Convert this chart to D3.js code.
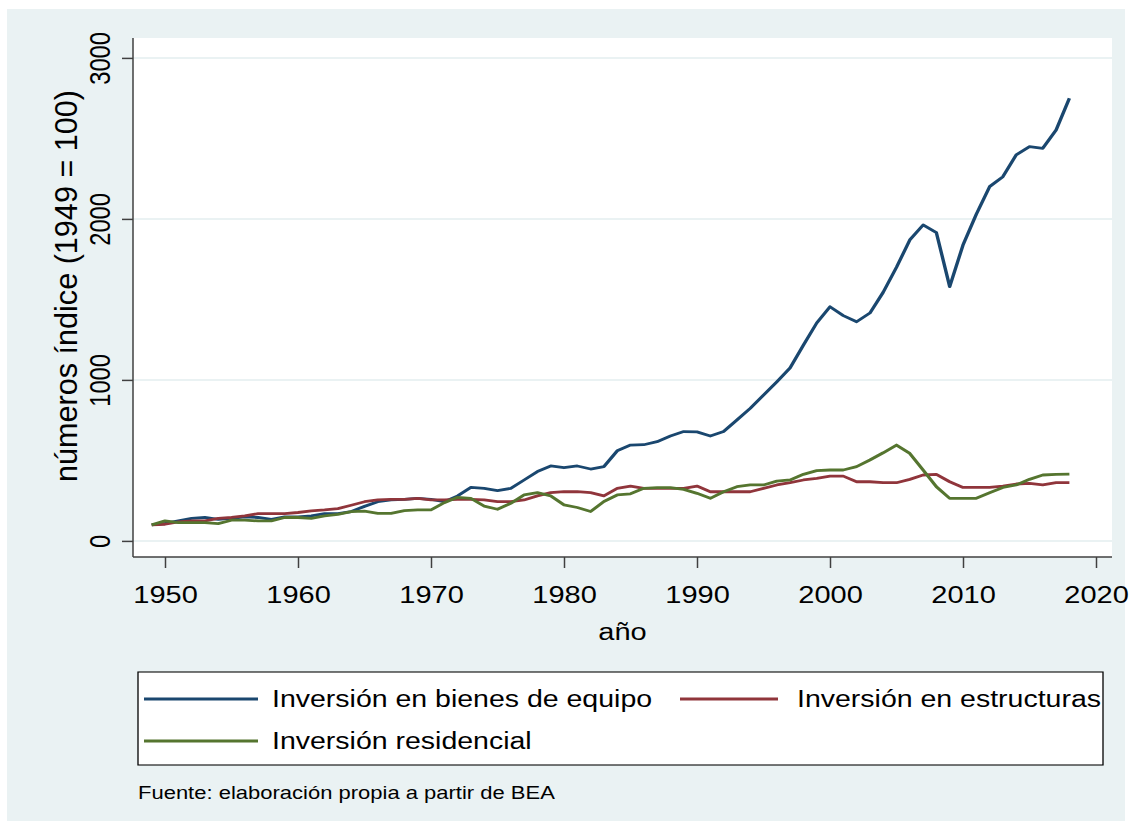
<!doctype html>
<head>
  <meta charset="utf-8">
  <script src="https://cdnjs.cloudflare.com/ajax/libs/d3/7.8.5/d3.min.js"></script>
</head>
<style>
  body { margin: 0; background: #fff; }
  svg { display: block; }
  text { font-family: "Liberation Sans", Arial, sans-serif; fill: #000; }
</style>
<body>
  <div id="chart"></div>
  <script>
    // Datos (1949 = 100), años 1949-2018
    const years = d3.range(1949, 2019);
    const equipo = [
      100, 110, 125, 141, 146, 135, 141, 150, 146, 135,
      150, 150, 156, 170, 170, 183, 215, 244, 255, 259,
      265, 259, 244, 280, 333, 327, 313, 327, 379, 431,
      466, 455, 466, 447, 462, 560, 596, 598, 617, 652,
      680, 678, 652, 680, 752, 824, 906, 989, 1075, 1217,
      1354, 1455, 1400, 1362, 1416, 1545, 1700, 1870, 1963, 1915,
      1580, 1838, 2030, 2201, 2263, 2398, 2449, 2439, 2553, 2750
    ];
    const estructuras = [
      100, 104, 119, 125, 125, 141, 146, 156, 170, 170,
      170, 177, 187, 193, 201, 222, 244, 255, 259, 259,
      265, 255, 255, 259, 259, 255, 244, 244, 255, 280,
      300, 306, 306, 300, 280, 327, 341, 327, 327, 327,
      327, 341, 306, 306, 306, 306, 327, 348, 362, 379,
      389, 403, 403, 368, 368, 362, 362, 383, 410, 414,
      368, 333, 333, 333, 341, 354, 358, 348, 362, 362
    ];
    const residencial = [
      100, 125, 114, 114, 114, 108, 129, 129, 125, 125,
      146, 146, 141, 156, 166, 183, 185, 172, 172, 189,
      193, 193, 238, 271, 265, 217, 197, 234, 286, 300,
      280, 224, 208, 183, 245, 286, 293, 327, 331, 331,
      321, 296, 265, 306, 337, 348, 348, 372, 379, 414,
      437, 441, 441, 462, 503, 548, 596, 544, 441, 337,
      265, 265, 265, 300, 333, 348, 383, 410, 414, 416
    ];
    const seriesNames = ["Inversión en bienes de equipo", "Inversión en estructuras", "Inversión residencial"];
    const seriesColors = ["#1a476f", "#90353b", "#55752f"];
    const xTicks = [1950, 1960, 1970, 1980, 1990, 2000, 2010, 2020];
    const yTicks = [0, 1000, 2000, 3000];

    // La imagen original está achatada en vertical: dibujamos en un sistema
    // más alto y lo comprimimos con el viewBox
    const W = 1131, H = 825;
    const sy = 0.82;
    const Y = (v) => v / sy;

    const svg = d3.select("#chart").append("svg")
      .attr("width", W).attr("height", H)
      .attr("viewBox", `0 0 ${W} ${H / sy}`)
      .attr("preserveAspectRatio", "none");

    // Fondo del gráfico
    svg.append("rect")
      .attr("x", 7).attr("y", Y(9))
      .attr("width", 1118).attr("height", Y(812))
      .attr("fill", "#eaf2f3");

    // Región del plot
    const plot = { left: 133, right: 1112, top: Y(38), bottom: Y(557) };
    svg.append("rect")
      .attr("x", plot.left).attr("y", plot.top)
      .attr("width", plot.right - plot.left).attr("height", plot.bottom - plot.top)
      .attr("fill", "#fff");

    const x = d3.scaleLinear().domain([1950, 2020]).range([165, 1096]);
    const y = d3.scaleLinear().domain([0, 3000]).range([Y(541), Y(58)]);

    // Rejilla
    svg.append("g")
      .selectAll("line")
      .data(yTicks)
      .join("line")
      .attr("x1", plot.left).attr("x2", plot.right)
      .attr("y1", (d) => y(d)).attr("y2", (d) => y(d))
      .attr("stroke", "#eaf2f3")
      .attr("stroke-width", 2.4);

    // Series
    const series = [equipo, estructuras, residencial];
    const line = d3.line()
      .x((d, i) => x(years[i]))
      .y((d) => y(d));
    svg.append("g")
      .selectAll("path")
      .data(series)
      .join("path")
      .attr("d", line)
      .attr("fill", "none")
      .attr("stroke", (d, i) => seriesColors[i])
      .attr("stroke-width", 3.4)
      .attr("stroke-linejoin", "round");

    // Ejes
    const axisColor = "#404040";
    const xAxis = svg.append("g")
      .attr("transform", `translate(0,${plot.bottom})`)
      .call(d3.axisBottom(x).tickValues(xTicks).tickFormat(d3.format("d"))
        .tickSize(Y(11)).tickPadding(6).tickSizeOuter(0));
    xAxis.select(".domain").remove();
    xAxis.selectAll(".tick line").attr("stroke", axisColor).attr("stroke-width", 1.5);
    xAxis.selectAll(".tick text")
      .attr("font-size", 29).attr("fill", "#000")
      .attr("y", Y(46)).attr("dy", 0);

    const yAxis = svg.append("g")
      .attr("transform", `translate(${plot.left},0)`)
      .call(d3.axisLeft(y).tickValues(yTicks).tickFormat(d3.format("d"))
        .tickSize(11).tickSizeOuter(0));
    yAxis.select(".domain").remove();
    yAxis.selectAll(".tick line").attr("stroke", axisColor).attr("stroke-width", Y(1.5));
    yAxis.selectAll(".tick text")
      .attr("font-size", 29).attr("fill", "#000")
      .attr("x", 0).attr("dy", 0)
      .attr("text-anchor", "middle")
      .attr("transform", "translate(-23,0) rotate(-90)");

    svg.append("line")
      .attr("x1", plot.left).attr("x2", plot.left)
      .attr("y1", plot.top).attr("y2", plot.bottom)
      .attr("stroke", axisColor).attr("stroke-width", 1.5);
    svg.append("line")
      .attr("x1", plot.left).attr("x2", plot.right)
      .attr("y1", plot.bottom).attr("y2", plot.bottom)
      .attr("stroke", axisColor).attr("stroke-width", Y(1.5));

    // Títulos de los ejes
    svg.append("text")
      .attr("x", (plot.left + plot.right) / 2).attr("y", Y(640))
      .attr("text-anchor", "middle").attr("font-size", 29)
      .text("año");
    svg.append("text")
      .attr("transform", `translate(77,${Y(286)}) rotate(-90)`)
      .attr("text-anchor", "middle").attr("font-size", 31)
      .attr("textLength", 478).attr("lengthAdjust", "spacingAndGlyphs")
      .text("números índice (1949 = 100)");

    // Leyenda
    const legend = svg.append("g");
    legend.append("rect")
      .attr("x", 138).attr("y", Y(672))
      .attr("width", 965).attr("height", Y(93))
      .attr("fill", "#fff").attr("stroke", "#000").attr("stroke-width", 1.3);
    const legendPos = [
      { lx: 144, len: 114, tx: 272, ty: 699 },
      { lx: 680, len: 98, tx: 797, ty: 699 },
      { lx: 144, len: 114, tx: 272, ty: 741 },
    ];
    const items = legend.selectAll("g.item")
      .data(seriesNames)
      .join("g")
      .attr("class", "item");
    items.append("line")
      .attr("x1", (d, i) => legendPos[i].lx)
      .attr("x2", (d, i) => legendPos[i].lx + legendPos[i].len)
      .attr("y1", (d, i) => Y(legendPos[i].ty))
      .attr("y2", (d, i) => Y(legendPos[i].ty))
      .attr("stroke", (d, i) => seriesColors[i])
      .attr("stroke-width", 3.4);
    items.append("text")
      .attr("x", (d, i) => legendPos[i].tx)
      .attr("y", (d, i) => Y(legendPos[i].ty))
      .attr("dy", "0.36em")
      .attr("font-size", 28.5)
      .text((d) => d);

    // Fuente
    svg.append("text")
      .attr("x", 138).attr("y", Y(799))
      .attr("font-size", 22)
      .text("Fuente: elaboración propia a partir de BEA");
  </script>
</body>
